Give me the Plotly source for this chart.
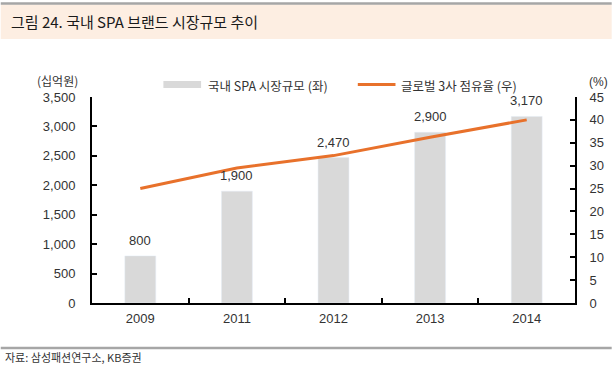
import plotly.graph_objects as go

# ---- data ----
years = ["2009", "2011", "2012", "2013", "2014"]
market_size = [800, 1900, 2470, 2900, 3170]          # 십억원 (left axis)
global3_share = [25.0, 29.5, 32.2, 36.2, 40.0]       # % (right axis)
left_ticks = [0, 500, 1000, 1500, 2000, 2500, 3000, 3500]
right_ticks = [0, 5, 10, 15, 20, 25, 30, 35, 40, 45]

bar_name = "국내 SPA 시장규모 (좌)"
line_name = "글로벌 3사 점유율 (우)"
title_text = "그림 24. 국내 SPA 브랜드 시장규모 추이"
source_text = "자료: 삼성패션연구소, KB증권"

W, H = 616, 382
ML, MR, MT, MB = 92, 37, 97, 79
PW, PH = W - ML - MR, H - MT - MB

def px(x):
    return (x - ML) / PW

def py(y):
    return (H - MB - y) / PH

FONT = "Liberation Sans, Arial, Noto Sans CJK KR, sans-serif"
KFONT = "Noto Sans CJK KR, Liberation Sans, sans-serif"
TXT = "#333333"
BAR_C = "#d9d9d9"
LINE_C = "#e8712b"

fig = go.Figure()
fig.add_trace(go.Bar(x=years, y=market_size, marker_color=BAR_C, name=bar_name,
                     showlegend=False, yaxis="y",
                     text=[f"{v:,}" for v in market_size], textposition="none"))
fig.add_trace(go.Scatter(x=years, y=global3_share, mode="lines", name=line_name,
                         line=dict(color=LINE_C, width=3), showlegend=False, yaxis="y2"))

annotations = []
for i, v in enumerate(market_size):
    annotations.append(dict(x=i, y=v, xref="x", yref="y", text=f"{v:,}", showarrow=False,
                            yanchor="bottom", yshift=6, font=dict(family=FONT, size=13, color=TXT)))

shapes = [
    # title band
    dict(type="rect", xref="paper", yref="paper", x0=px(0), x1=px(W), y0=py(39), y1=py(4.5),
         fillcolor="#fdeee2", line=dict(width=0), layer="below"),
    dict(type="line", xref="paper", yref="paper", x0=px(0), x1=px(W), y0=py(3.5), y1=py(3.5),
         line=dict(color="#a6a6a6", width=2.5)),
    # bottom rule
    dict(type="line", xref="paper", yref="paper", x0=px(0), x1=px(W), y0=py(348), y1=py(348),
         line=dict(color="#a6a6a6", width=2.5)),
    # legend swatches
    dict(type="rect", xref="paper", yref="paper", x0=px(164), x1=px(202), y0=py(88), y1=py(81),
         fillcolor=BAR_C, line=dict(width=0)),
    dict(type="line", xref="paper", yref="paper", x0=px(360), x1=px(398), y0=py(84.5), y1=py(84.5),
         line=dict(color=LINE_C, width=3)),
]

annotations += [
    dict(x=px(8), y=py(22), xref="paper", yref="paper", text=title_text, showarrow=False,
         xanchor="left", yanchor="middle", font=dict(family=KFONT, size=15, color="#1a1a1a")),
    dict(x=px(2), y=py(357), xref="paper", yref="paper", text=source_text, showarrow=False,
         xanchor="left", yanchor="middle", font=dict(family=KFONT, size=11, color="#333333")),
    dict(x=px(207), y=py(85), xref="paper", yref="paper", text=bar_name, showarrow=False,
         xanchor="left", yanchor="middle", font=dict(family=KFONT, size=12.5, color=TXT)),
    dict(x=px(402), y=py(85), xref="paper", yref="paper", text=line_name, showarrow=False,
         xanchor="left", yanchor="middle", font=dict(family=KFONT, size=12.5, color=TXT)),
    dict(x=px(57), y=py(80), xref="paper", yref="paper", text="(십억원)", showarrow=False,
         xanchor="center", yanchor="middle", font=dict(family=KFONT, size=12, color=TXT)),
    dict(x=px(603), y=py(82), xref="paper", yref="paper", text="(%)", showarrow=False,
         xanchor="center", yanchor="middle", font=dict(family=FONT, size=12, color=TXT)),
]

fig.update_layout(
    width=W, height=H,
    margin=dict(l=ML, r=MR, t=MT, b=MB, pad=0),
    paper_bgcolor="white", plot_bgcolor="white",
    bargap=0.68,
    showlegend=False,
    xaxis=dict(type="category", range=[-0.5, len(years) - 0.5], autorange=False,
               showline=True, linecolor="black", linewidth=2,
               ticks="inside", ticklen=5, tickwidth=1.5, tickcolor="black",
               tickson="boundaries", showgrid=False, zeroline=False,
               tickfont=dict(family=FONT, size=13, color=TXT), ticklabelstandoff=2),
    yaxis=dict(range=[0, 3500], autorange=False, tickvals=left_ticks,
               ticktext=[f"{v:,}" for v in left_ticks],
               showline=True, linecolor="black", linewidth=2, ticks="inside", ticklen=5,
               tickwidth=1.5, tickcolor="black", showgrid=False, zeroline=False,
               tickfont=dict(family=FONT, size=13, color=TXT), ticklabelstandoff=12),
    yaxis2=dict(range=[0, 45], autorange=False, tickvals=right_ticks, overlaying="y", side="right",
                showline=True, linecolor="black", linewidth=2, ticks="inside", ticklen=5,
                tickwidth=1.5, tickcolor="black", showgrid=False, zeroline=False,
                tickfont=dict(family=FONT, size=13, color=TXT), ticklabelstandoff=10),
    shapes=shapes,
    annotations=annotations,
)

fig.write_html("out.html", config={"displayModeBar": False},
               post_script="document.body.style.margin='0';document.body.style.overflow='hidden';")
